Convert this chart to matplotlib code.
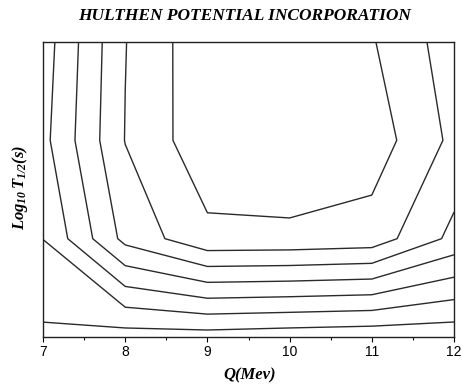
import numpy as np
import matplotlib
matplotlib.use("Agg")
from matplotlib import pyplot as plt

# grid of the surface (Q in MeV along x, arbitrary log T rows along y)
q_vals = [7, 8, 9, 10, 11, 12]
y_rows = [0, 1, 2, 3]
z_rows = [
    [0.82, 0.565, 0.56, 0.42, 0.31, 0.33],
    [2.01, 5.30, 6.75, 6.72, 6.57, 4.72],
    [2.71, 6.03, 7.70, 8.05, 7.54, 5.76],
    [2.50, 5.97, 7.75, 8.20, 7.08, 5.47],
]
levels = [1, 2, 3, 4, 5, 6, 7]
x_ticks = [7, 8, 9, 10, 11, 12]

plt.rcParams['mathtext.fontset'] = 'custom'
plt.rcParams['mathtext.it'] = 'Liberation Serif:bold:italic'
plt.rcParams['mathtext.rm'] = 'Liberation Serif:bold:italic'
plt.rcParams['mathtext.bf'] = 'Liberation Serif:bold:italic'

fig = plt.figure(figsize=(4.62, 3.87), dpi=100)
ax = fig.add_axes([0.0931, 0.1292, 0.8896, 0.7623])

X, Y = np.meshgrid(q_vals, y_rows)
Z = np.array(z_rows)
ax.contour(X, Y, Z, levels=levels, colors='#2a2a2a', linewidths=1.0)

ax.set_xlim(7, 12)
ax.set_ylim(0, 3)
ax.set_xticks(x_ticks)
ax.set_xticklabels([str(t) for t in x_ticks], family='Liberation Sans', fontsize=10)
ax.set_xticks(np.arange(7.5, 12, 1.0), minor=True)
ax.tick_params(axis='x', which='major', direction='out', length=3.5, width=0.8, pad=2)
ax.tick_params(axis='x', which='minor', direction='out', length=2.5, width=0.8)
ax.set_yticks([])
for s in ax.spines.values():
    s.set_linewidth(1.0)
    s.set_color('#222222')

fig.text(0.53, 0.958, 'HULTHEN POTENTIAL INCORPORATION', ha='center', va='center',
         family='Liberation Serif', weight='bold', style='italic', fontsize=12.5)
fig.text(0.54, 0.03, 'Q(Mev)', ha='center', va='center',
         family='Liberation Serif', weight='bold', style='italic', fontsize=12)
fig.text(0.043, 0.515, r'$Log_{10}\,T_{1/2}(s)$', ha='center', va='center',
         rotation=90, fontsize=12)

fig.savefig('out.png', dpi=100)
